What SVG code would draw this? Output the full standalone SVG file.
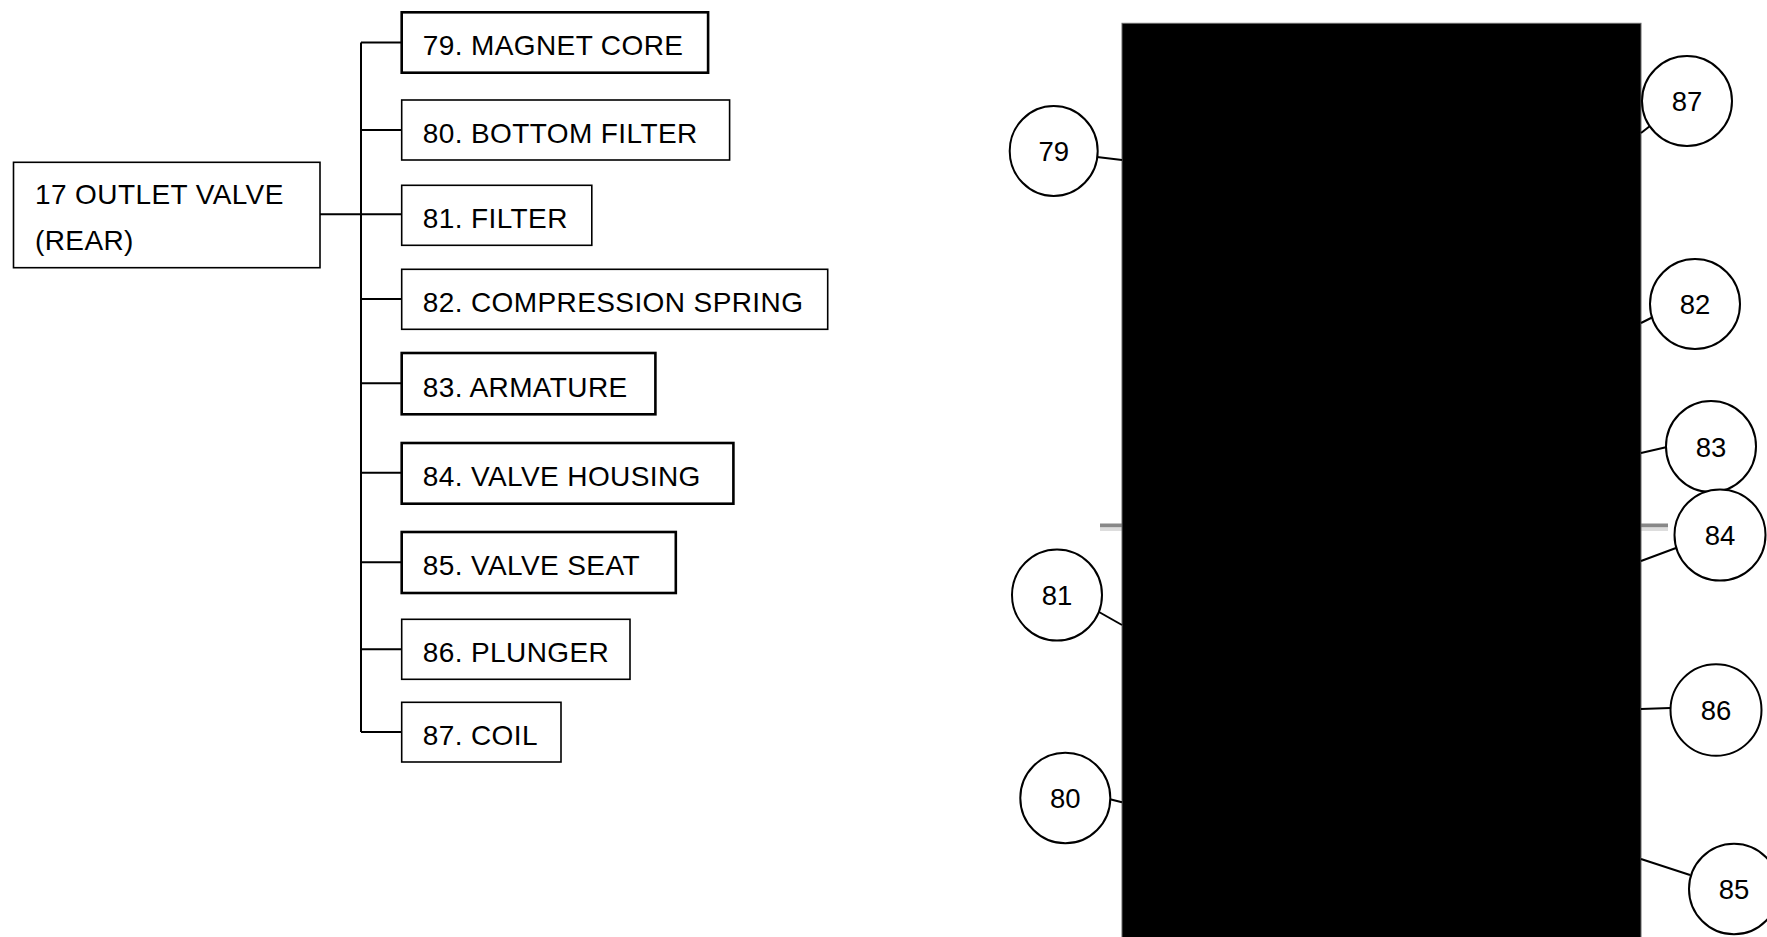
<svg xmlns="http://www.w3.org/2000/svg" width="1767" height="937" viewBox="0 0 1767 937">
<style>
.box{fill:#fff;stroke:#000;stroke-width:1.6}
.thick{stroke-width:2.6}
.lbl{font-family:"Liberation Sans",Arial,sans-serif;font-size:28px;fill:#000;letter-spacing:0.4px}
.conn{fill:none;stroke:#000;stroke-width:2}
.circ{fill:#fff;stroke:#000;stroke-width:2}
.num{font-family:"Liberation Sans",Arial,sans-serif;font-size:27.5px;fill:#000;text-anchor:middle}
.lead{stroke:#000;stroke-width:2}
</style>
<rect x="0" y="0" width="1767" height="937" fill="#fff"/>

<g id="connectors">
<path class="conn" d="M320,214.3 H361 M361,42.5 V732 M361,42.5 H402 M361,130 H402 M361,214.3 H402 M361,299 H402 M361,383.3 H402 M361,472.7 H402 M361,562.3 H402 M361,649.3 H402 M361,732 H402"/>
</g>

<g id="root">
<rect class="box" x="13.5" y="162.3" width="306.5" height="105.4"/>
<text class="lbl" x="35" y="204">17 OUTLET VALVE</text>
<text class="lbl" x="35" y="250">(REAR)</text>
</g>
<g id="n79"><rect class="box thick" x="401.7" y="12.3" width="306.4" height="60.4"/><text class="lbl" x="422.7" y="55">79. MAGNET CORE</text></g>
<g id="n80"><rect class="box" x="401.7" y="100" width="327.9" height="60"/><text class="lbl" x="422.7" y="143">80. BOTTOM FILTER</text></g>
<g id="n81"><rect class="box" x="401.7" y="185.3" width="190.1" height="60"/><text class="lbl" x="422.7" y="228.3">81. FILTER</text></g>
<g id="n82"><rect class="box" x="401.7" y="269.3" width="426" height="60"/><text class="lbl" x="422.7" y="312.3">82. COMPRESSION SPRING</text></g>
<g id="n83"><rect class="box thick" x="401.7" y="353" width="253.7" height="61.3"/><text class="lbl" x="422.7" y="396.5">83. ARMATURE</text></g>
<g id="n84"><rect class="box thick" x="401.7" y="443" width="331.7" height="60.7"/><text class="lbl" x="422.7" y="486">84. VALVE HOUSING</text></g>
<g id="n85"><rect class="box thick" x="401.7" y="532" width="274.1" height="61"/><text class="lbl" x="422.7" y="575">85. VALVE SEAT</text></g>
<g id="n86"><rect class="box" x="401.7" y="619.3" width="228.3" height="60"/><text class="lbl" x="422.7" y="662.3">86. PLUNGER</text></g>
<g id="n87"><rect class="box" x="401.7" y="702.3" width="159.3" height="59.7"/><text class="lbl" x="422.7" y="745.3">87. COIL</text></g>

<g id="picture">
<rect x="1100" y="523.5" width="568" height="4" fill="#888"/>
<rect x="1100" y="527.5" width="568" height="3.5" fill="#ddd"/>
<rect x="1122" y="23.3" width="519" height="920" fill="#000" stroke="#666" stroke-width="1"/>
</g>

<g id="leaders">
<line class="lead" x1="1097" y1="157" x2="1122" y2="160"/>
<line class="lead" x1="1641" y1="133" x2="1650" y2="126"/>
<line class="lead" x1="1641" y1="323" x2="1653" y2="317"/>
<line class="lead" x1="1641" y1="453" x2="1667" y2="447"/>
<line class="lead" x1="1641" y1="561" x2="1676" y2="548"/>
<line class="lead" x1="1099" y1="612" x2="1122" y2="625"/>
<line class="lead" x1="1641" y1="709" x2="1670" y2="708"/>
<line class="lead" x1="1110" y1="799.3" x2="1122" y2="802.3"/>
<line class="lead" x1="1641" y1="859" x2="1690" y2="875"/>
</g>

<g id="c79"><ellipse class="circ" cx="1053.7" cy="151" rx="44" ry="45"/><text class="num" x="1053.7" y="161">79</text></g>
<g id="c87"><ellipse class="circ" cx="1687" cy="101" rx="45" ry="45"/><text class="num" x="1687" y="111">87</text></g>
<g id="c82"><ellipse class="circ" cx="1695" cy="304" rx="45" ry="45"/><text class="num" x="1695" y="314">82</text></g>
<g id="c83"><ellipse class="circ" cx="1711" cy="446.5" rx="45" ry="45.5"/><text class="num" x="1711" y="456.5">83</text></g>
<g id="c84"><ellipse class="circ" cx="1720" cy="535" rx="45.5" ry="45.5"/><text class="num" x="1720" y="545">84</text></g>
<g id="c81"><ellipse class="circ" cx="1057" cy="595" rx="45" ry="45.5"/><text class="num" x="1057" y="605">81</text></g>
<g id="c86"><ellipse class="circ" cx="1716" cy="710" rx="45.5" ry="45.8"/><text class="num" x="1716" y="720">86</text></g>
<g id="c80"><ellipse class="circ" cx="1065.3" cy="798" rx="45" ry="45.3"/><text class="num" x="1065.3" y="808">80</text></g>
<g id="c85"><ellipse class="circ" cx="1734" cy="889" rx="45" ry="45.3"/><text class="num" x="1734" y="899">85</text></g>
</svg>
